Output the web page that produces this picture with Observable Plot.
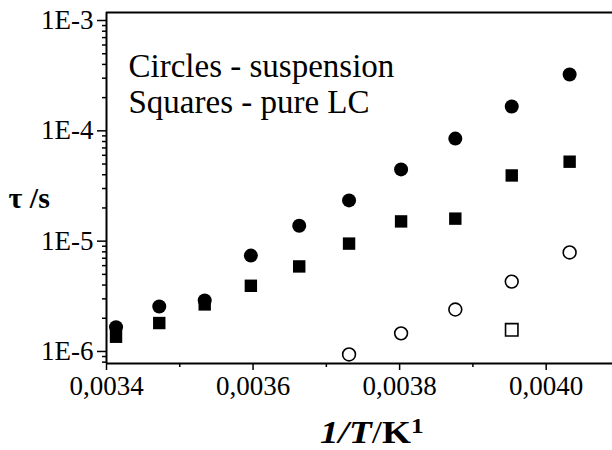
<!DOCTYPE html>
<html><head><meta charset="utf-8">
<script src="https://cdn.jsdelivr.net/npm/d3@7"></script>
<script src="https://cdn.jsdelivr.net/npm/@observablehq/plot@0.6"></script>
<style>
html,body{margin:0;padding:0;background:#fff;}
#chart{width:612px;height:450px;overflow:hidden;}
#chart svg, #chart svg text{font-family:'Liberation Serif','Times New Roman',Times,serif;}
</style></head><body><div id="chart"></div>
<script>
// Data
const invT = [0.003413, 0.003472, 0.003534, 0.003597, 0.003663, 0.003731, 0.003802, 0.003876, 0.003953, 0.004032];
const tauSuspension = [1.66e-6, 2.56e-6, 2.90e-6, 7.4e-6, 1.38e-5, 2.34e-5, 4.47e-5, 8.5e-5, 1.66e-4, 3.24e-4];
const tauPureLC = [1.36e-6, 1.81e-6, 2.67e-6, 3.94e-6, 5.9e-6, 9.5e-6, 1.51e-5, 1.60e-5, 3.94e-5, 5.25e-5];
const invTOpen = [0.003731, 0.003802, 0.003876, 0.003953, 0.004032];
const tauSuspensionOpen = [9.4e-7, 1.46e-6, 2.4e-6, 4.3e-6, 7.9e-6];
const invTOpenSquare = [0.003953];
const tauPureLCOpen = [1.57e-6];

const xTicks = [0.0034, 0.0036, 0.0038, 0.0040];
const xTickLabels = ["0,0034", "0,0036", "0,0038", "0,0040"];
const xMinorTicks = [0.0035, 0.0037, 0.0039];
const yTicks = [1e-6, 1e-5, 1e-4, 1e-3];
const yTickLabels = ["1E-6", "1E-5", "1E-4", "1E-3"];
const legendLines = ["Circles - suspension", "Squares - pure LC"];
const yLabel = "τ /s";

const xDomain = [0.0034, 0.0040905];
const yDomain = [7.78e-7, 1.182e-3];

const yMinorTicks = [];
for (const dec of [1e-7, 1e-6, 1e-5, 1e-4, 1e-3]) {
  for (let m = 2; m <= 9; m++) {
    const v = m * dec;
    if (v >= yDomain[0] && v <= yDomain[1]) yMinorTicks.push(v);
  }
}

const serif = "'Liberation Serif', 'Times New Roman', Times, serif";

const svg = Plot.plot({
  width: 612,
  height: 450,
  marginLeft: 106,
  marginTop: 12,
  marginRight: 0,
  marginBottom: 87,
  style: "font-family: 'Liberation Serif', 'Times New Roman', Times, serif; font-size: 24px; color: #000; background: #fff; overflow: visible;",
  x: {domain: xDomain},
  y: {type: "log", domain: yDomain},
  marks: [
    Plot.axisY(yMinorTicks, {tickSize: 4, tickFormat: () => "", strokeWidth: 1.5, label: null}),
    Plot.axisY(yTicks, {tickSize: 9, tickPadding: 4, strokeWidth: 1.5, tickFormat: d => yTickLabels[yTicks.indexOf(d)], label: null, fontSize: 27}),
    Plot.axisX(xMinorTicks, {tickSize: 4, tickFormat: () => "", strokeWidth: 1.5, label: null}),
    Plot.axisX(xTicks, {tickSize: 7, tickPadding: 5, strokeWidth: 1.5, tickFormat: d => xTickLabels[xTicks.indexOf(d)], label: null, fontSize: 27}),
    Plot.ruleX([xDomain[0]], {stroke: "#000", strokeWidth: 2}),
    Plot.ruleY([yDomain[0]], {stroke: "#000", strokeWidth: 2}),
    Plot.ruleY([yDomain[1]], {stroke: "#000", strokeWidth: 2}),
    Plot.dot(invT, {x: invT, y: tauPureLC, symbol: "square", r: 7, fill: "#000", stroke: "none"}),
    Plot.dot(invT, {x: invT, y: tauSuspension, symbol: "circle", r: 7, fill: "#000", stroke: "none"}),
    Plot.dot(invTOpen, {x: invTOpen, y: tauSuspensionOpen, symbol: "circle", r: 6.4, fill: "#fff", stroke: "#000", strokeWidth: 1.6}),
    Plot.dot(invTOpenSquare, {x: invTOpenSquare, y: tauPureLCOpen, symbol: "square", r: 7, fill: "#fff", stroke: "#000", strokeWidth: 1.6}),
    Plot.text([legendLines.join("\n")], {frameAnchor: "top-left", textAnchor: "start", lineAnchor: "top", dx: 22, dy: 39, fontSize: 33, lineHeight: 1.09, fill: "#000"}),
    Plot.text([yLabel], {frameAnchor: "left", textAnchor: "start", dx: -98, dy: 10, fontSize: 30, fontWeight: "bold", fill: "#000"})
  ]
});

const sel = d3.select(svg);
// enforce tick label font
sel.selectAll('g[aria-label="y-axis tick label"], g[aria-label="x-axis tick label"]')
  .style("font-size", "27px").style("font-family", serif);

// x-axis label with mixed styles
const lab = sel.append("text")
  .attr("transform", "translate(320,443) scale(1.2,1)")
  .attr("text-anchor", "start")
  .attr("font-family", serif).attr("font-size", 31).attr("fill", "#000");
lab.append("tspan").attr("font-weight", "bold").attr("font-style", "italic").text("1/T");
lab.append("tspan").text("/");
lab.append("tspan").attr("font-weight", "bold").text("K");
lab.append("tspan").attr("font-weight", "bold").attr("font-size", 21).attr("dy", -10).text("1");

document.getElementById("chart").appendChild(svg);
</script>
</body></html>
